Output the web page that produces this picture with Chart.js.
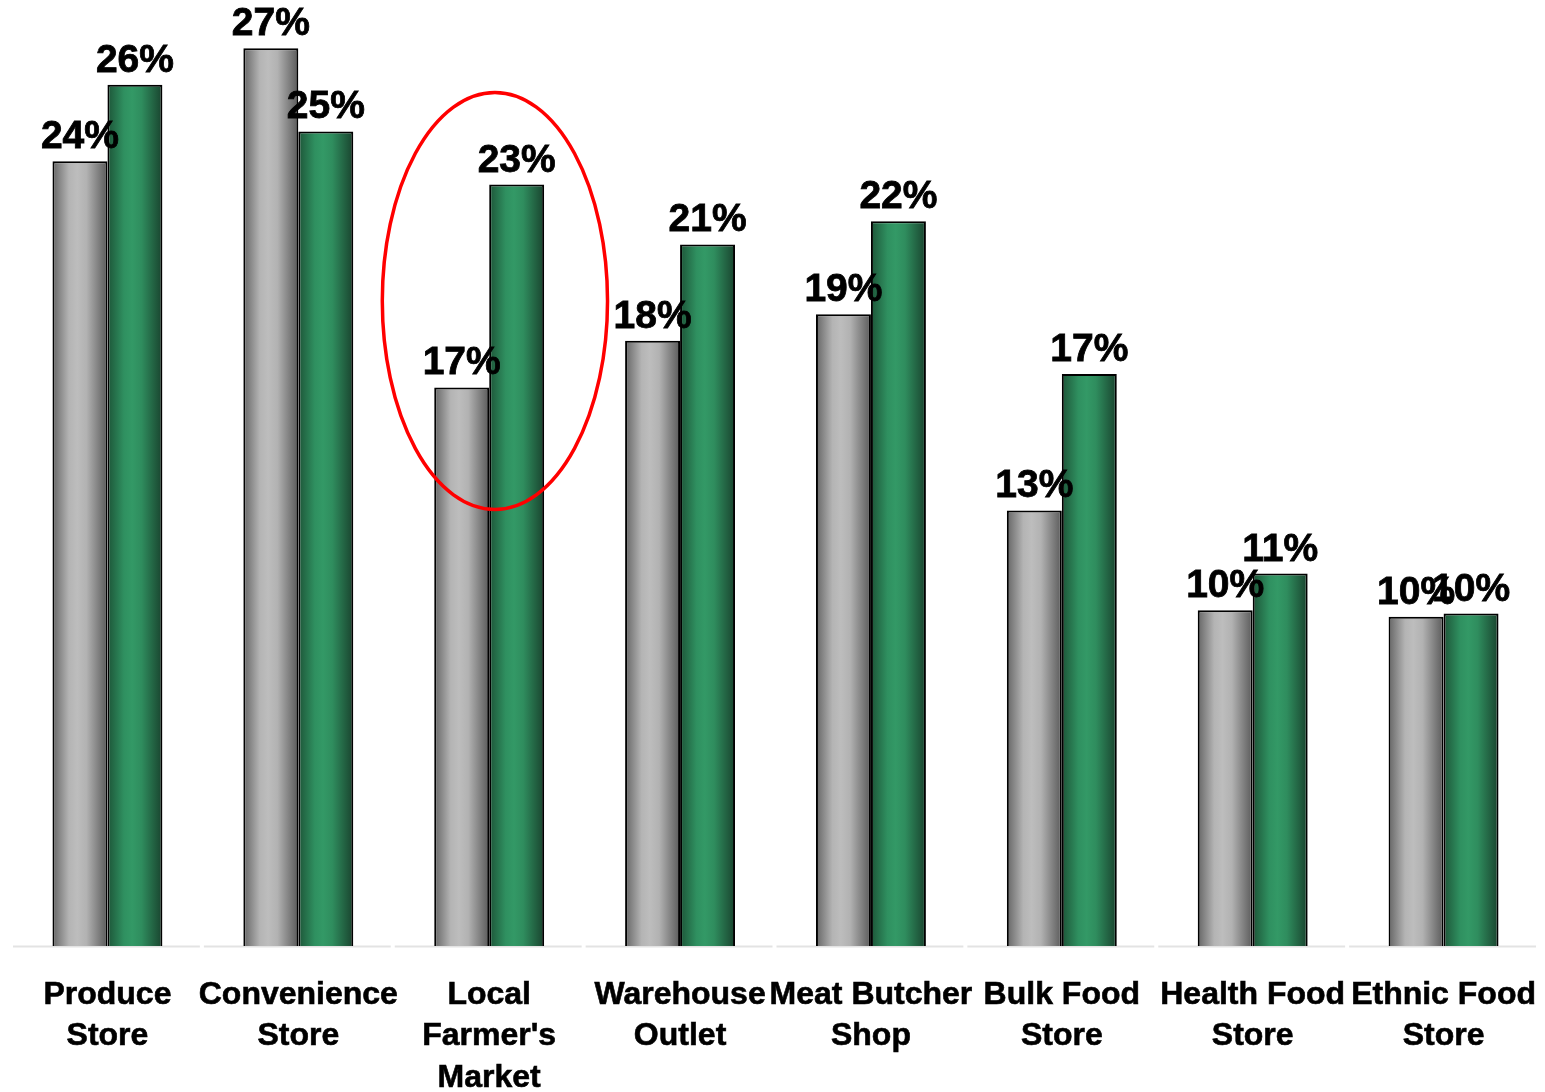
<!DOCTYPE html>
<html>
<head>
<meta charset="utf-8">
<script src="https://cdn.jsdelivr.net/npm/chart.js@4/dist/chart.umd.min.js"></script>
<style>
  html, body { margin: 0; padding: 0; background: #ffffff; }
  #wrap { width: 1545px; height: 1092px; }
</style>
</head>
<body>
<div id="wrap"><canvas id="c" width="1545" height="1092"></canvas></div>
<script>
// ---- data ----
const categories = [
  ['Produce', 'Store'],
  ['Convenience', 'Store'],
  ['Local', "Farmer's", 'Market'],
  ['Warehouse', 'Outlet'],
  ['Meat Butcher', 'Shop'],
  ['Bulk Food', 'Store'],
  ['Health Food', 'Store'],
  ['Ethnic Food', 'Store']
];
const seriesGrayValues  = [23.6, 27.0, 16.8, 18.2, 19.0, 13.1, 10.1, 9.9];
const seriesGreenValues = [25.9, 24.5, 22.9, 21.1, 21.8, 17.2, 11.2, 10.0];
const yAxisMax = 28;
// highlight annotation (in data units)
const highlightCategoryIndex = 2.03;
const highlightCenterValue = 19.4;
const highlightValueRadius = 6.27;
const highlightCategoryRadius = 0.59;

const CAT_PCT = 0.576;

function barGradient(ctx, dsIndex) {
  const chart = ctx.chart;
  const xs = chart.scales && chart.scales.x;
  const fallback = dsIndex === 0 ? '#b0b0b0' : '#2e8b57';
  if (!xs || ctx.dataIndex === undefined) return fallback;
  const center = xs.getPixelForValue(ctx.dataIndex);
  const catW = xs.width / categories.length;
  const half = catW * CAT_PCT / 2;
  const left = dsIndex === 0 ? center - half : center;
  const right = dsIndex === 0 ? center : center + half;
  if (!isFinite(left) || !isFinite(right)) return fallback;
  const g = chart.ctx.createLinearGradient(left, 0, right, 0);
  if (dsIndex === 0) {
    g.addColorStop(0, '#656565');
    g.addColorStop(0.3, '#b4b4b4');
    g.addColorStop(0.45, '#bdbdbd');
    g.addColorStop(0.62, '#b2b2b2');
    g.addColorStop(1, '#5a5a5a');
  } else {
    g.addColorStop(0, '#1d5538');
    g.addColorStop(0.3, '#2f9060');
    g.addColorStop(0.45, '#339966');
    g.addColorStop(0.62, '#2f8d5e');
    g.addColorStop(1, '#19432e');
  }
  return g;
}

const valueLabelsPlugin = {
  id: 'valueLabels',
  afterDatasetsDraw(chart) {
    const ctx = chart.ctx;
    ctx.save();
    ctx.fillStyle = '#000000';
    ctx.strokeStyle = '#000000';
    ctx.lineWidth = 0.8;
    ctx.font = 'bold 39px "Liberation Sans", Arial, sans-serif';
    ctx.textAlign = 'center';
    ctx.textBaseline = 'alphabetic';
    chart.data.datasets.forEach((ds, di) => {
      const meta = chart.getDatasetMeta(di);
      meta.data.forEach((bar, i) => {
        const txt = Math.round(ds.data[i]) + '%';
        ctx.fillText(txt, bar.x, bar.y - 13);
        ctx.strokeText(txt, bar.x, bar.y - 13);
      });
    });
    ctx.restore();
  }
};

const highlightPlugin = {
  id: 'highlight',
  afterDraw(chart) {
    const xs = chart.scales.x, ys = chart.scales.y;
    const catW = xs.width / categories.length;
    const cx = xs.getPixelForValue(0) + highlightCategoryIndex * catW;
    const rx = catW * highlightCategoryRadius;
    const cy = ys.getPixelForValue(highlightCenterValue);
    const ry = Math.abs(ys.getPixelForValue(highlightCenterValue + highlightValueRadius) - cy);
    const ctx = chart.ctx;
    ctx.save();
    ctx.strokeStyle = '#ff0000';
    ctx.lineWidth = 3.5;
    ctx.beginPath();
    ctx.ellipse(cx, cy, rx, ry, 0, 0, Math.PI * 2);
    ctx.stroke();
    ctx.restore();
  }
};

const baselinePlugin = {
  id: 'baseline',
  beforeDatasetsDraw(chart) {
    const xs = chart.scales.x, ys = chart.scales.y;
    const y = ys.getPixelForValue(0) + 0.5;
    const catW = xs.width / categories.length;
    const ctx = chart.ctx;
    ctx.save();
    ctx.strokeStyle = '#e3e3e3';
    ctx.lineWidth = 2;
    for (let i = 0; i < categories.length; i++) {
      const c = xs.getPixelForValue(i);
      ctx.beginPath();
      ctx.moveTo(c - catW / 2 + 1, y);
      ctx.lineTo(c + catW / 2 - 3, y);
      ctx.stroke();
    }
    ctx.restore();
  }
};

new Chart(document.getElementById('c'), {
  type: 'bar',
  data: {
    labels: categories,
    datasets: [
      {
        data: seriesGrayValues,
        backgroundColor: (ctx) => barGradient(ctx, 0),
        borderColor: '#000000',
        borderWidth: 2,
        borderSkipped: 'bottom'
      },
      {
        data: seriesGreenValues,
        backgroundColor: (ctx) => barGradient(ctx, 1),
        borderColor: '#000000',
        borderWidth: 2,
        borderSkipped: 'bottom'
      }
    ]
  },
  options: {
    responsive: false,
    animation: false,
    events: [],
    layout: { padding: { top: 15, left: 12, right: 6, bottom: 0 } },
    datasets: { bar: { categoryPercentage: CAT_PCT, barPercentage: 1.0 } },
    plugins: {
      legend: { display: false },
      tooltip: { enabled: false },
      title: { display: false }
    },
    scales: {
      y: {
        display: false,
        min: 0,
        max: yAxisMax
      },
      x: {
        grid: { display: false, drawTicks: false },
        border: { display: false },
        ticks: {
          color: '#000000',
          textStrokeColor: '#000000',
          textStrokeWidth: 0.6,
          padding: 28,
          maxRotation: 0,
          autoSkip: false,
          font: { family: '"Liberation Sans", Arial, sans-serif', size: 32, weight: 'bold', lineHeight: 1.3 }
        },
        afterFit(scale) {
          scale.height = 146;
          scale.paddingLeft = 0;
          scale.paddingRight = 0;
        }
      }
    }
  },
  plugins: [baselinePlugin, valueLabelsPlugin, highlightPlugin]
});
</script>
</body>
</html>
